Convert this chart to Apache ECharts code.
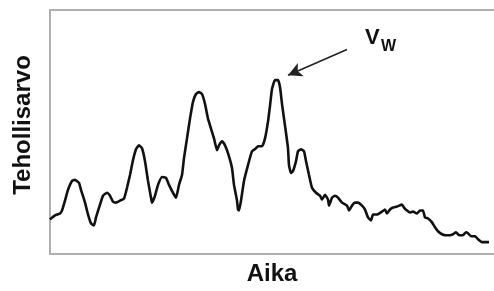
<!DOCTYPE html>
<html>
<head>
<meta charset="utf-8">
<script src="https://cdn.jsdelivr.net/npm/echarts@6/dist/echarts.min.js"></script>
<style>
  html, body { margin: 0; padding: 0; background: #fff; }
  #chart { width: 494px; height: 291px; }
</style>
</head>
<body>
<div id="chart"></div>
<script>
  // aika (x) ja tehollisarvo (y), luettu kuvasta
  var aika = [0, 5, 10, 12, 15, 18, 22, 25, 29, 31, 35, 38, 41, 44, 46, 50, 53, 57, 60, 63, 66, 70, 74, 77, 80, 83, 86, 89, 92, 95, 98, 101, 102, 105, 108, 112, 116, 119, 123, 126, 129, 132, 134, 137, 140, 143, 146, 149, 152, 155, 158, 161, 164, 167, 169, 172, 175, 178, 182, 184, 187, 188, 189, 191, 194, 198, 202, 206, 208, 212, 215, 218, 220, 222, 225, 228, 230, 232, 235, 238, 239, 241, 243, 246, 248, 251, 254, 256, 259, 262, 266, 270, 272, 275, 278, 279, 282, 285, 288, 292, 297, 299, 302, 305, 308, 312, 315, 318, 321, 323, 327, 332, 335, 337, 340, 343, 347, 352, 354, 357, 360, 363, 367, 370, 373, 375, 378, 382, 385, 388, 392, 395, 400, 403, 406, 409, 413, 416, 418, 421, 425, 428, 432, 435, 439];
  var tehollisarvo = [35, 39, 41, 44, 54, 65, 74, 75, 72, 65, 52, 40, 31, 29, 37, 50, 59, 62, 59, 53, 52, 54, 56, 67, 80, 95, 106, 110, 107, 94, 74, 57, 52, 59, 70, 78, 77, 70, 62, 57, 70, 80, 97, 117, 137, 154, 162, 164, 162, 152, 137, 127, 117, 105, 110, 114, 110, 102, 87, 70, 54, 45, 44, 54, 74, 90, 104, 107, 109, 109, 117, 134, 150, 167, 176, 176, 169, 152, 130, 107, 90, 82, 84, 94, 104, 106, 104, 94, 80, 67, 62, 59, 55, 60, 55, 49, 57, 59, 57, 52, 49, 44, 49, 52, 52, 49, 45, 37, 34, 40, 40, 43, 45, 41, 45, 47, 48, 50, 47, 44, 42, 43, 41, 44, 44, 37, 36, 32, 27, 23, 20, 19, 19, 20, 22, 19, 19, 22, 21, 18, 18, 15, 12, 12, 12];
  // nuoli kohti huippua V_W
  var nuoli = [[297, 207], [238, 181]];

  var data = aika.map(function (x, i) { return [x, tehollisarvo[i]]; });

  var chart = echarts.init(document.getElementById('chart'));
  var axisColor = '#b0b0b0';
  var option = {
    animation: false,
    grid: { left: 50, right: 0, top: 10, bottom: 34 },
    xAxis: [
      {
        type: 'value', min: 0, max: 444, position: 'bottom',
        name: 'Aika', nameLocation: 'middle', nameGap: 8,
        nameTextStyle: { fontFamily: 'Liberation Sans', fontWeight: 'bold', fontSize: 24, color: '#111', verticalAlign: 'top' },
        axisLine: { show: true, lineStyle: { color: axisColor, width: 2 } },
        axisTick: { show: false }, axisLabel: { show: false }, splitLine: { show: false }
      },
      {
        type: 'value', min: 0, max: 444, position: 'top',
        axisLine: { show: true, lineStyle: { color: axisColor, width: 2 } },
        axisTick: { show: false }, axisLabel: { show: false }, splitLine: { show: false }
      }
    ],
    yAxis: {
      type: 'value', min: 0, max: 247,
      name: 'Tehollisarvo', nameLocation: 'middle', nameGap: 15, nameRotate: 90,
      nameTextStyle: { fontFamily: 'Liberation Sans', fontWeight: 'bold', fontSize: 24, color: '#111', padding: [0, 0, 0, 14] },
      axisLine: { show: true, lineStyle: { color: axisColor, width: 2 } },
      axisTick: { show: false }, axisLabel: { show: false }, splitLine: { show: false }
    },
    series: [{
      type: 'line',
      data: data,
      showSymbol: false,
      smooth: 0.15,
      lineStyle: { color: '#111', width: 2.6 },
      markLine: {
        silent: true,
        symbol: ['none', 'arrow'],
        symbolSize: [11, 14],
        label: { show: false },
        lineStyle: { color: '#222', width: 1.5, type: 'solid' },
        data: [[{ coord: nuoli[0] }, { coord: nuoli[1] }]]
      }
    }],
    graphic: [
      { type: 'text', left: 365, top: 27, style: { text: 'V', fontFamily: 'Liberation Sans', fontWeight: 'bold', fontSize: 22, fill: '#111' } },
      { type: 'text', left: 381, top: 39, style: { text: 'W', fontFamily: 'Liberation Sans', fontWeight: 'bold', fontSize: 16, fill: '#111' } }
    ]
  };
  chart.setOption(option);
</script>
</body>
</html>
